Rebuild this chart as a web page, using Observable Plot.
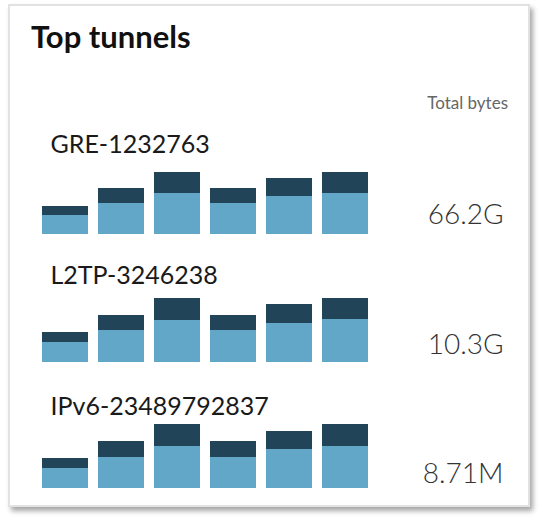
<!DOCTYPE html>
<html>
<head>
<meta charset="utf-8">
<script src="https://cdn.jsdelivr.net/npm/d3@7"></script>
<script src="https://cdn.jsdelivr.net/npm/@observablehq/plot@0.6"></script>
<style>
  html, body { margin: 0; padding: 0; background: #ffffff; }
  body { width: 539px; height: 519px; position: relative; overflow: hidden; font-family: Lato, "Open Sans", sans-serif; }
  #card { position: absolute; left: 8px; top: 4px; width: 518px; height: 499px; border: 2px solid #e2e2e2; background: #fff; box-shadow: 3px 4px 5px rgba(0,0,0,0.35); }
  #title { position: absolute; left: 31px; top: 21px; font-size: 31px; font-weight: 700; color: #111; line-height: 1; }
  #colhead { position: absolute; right: 31px; top: 94px; font-size: 17px; color: #666; line-height: 1; }
  .row { position: absolute; left: 0; }
</style>
</head>
<body>
<div id="card"></div>
<div id="title">Top tunnels</div>
<div id="colhead">Total bytes</div>
<div id="rows"></div>
<script>
// ---- data ----
const tunnels = ["GRE-1232763", "L2TP-3246238", "IPv6-23489792837"];
const totals = ["66.2G", "10.3G", "8.71M"];
const periods = ["1", "2", "3", "4", "5", "6"];
const greLower = [19, 31, 41, 31, 38, 41];
const greUpper = [9, 15, 21, 15, 18, 21];
const l2tpLower = [20, 32, 42, 32, 39, 43];
const l2tpUpper = [10, 15, 22, 15, 19, 21];
const ipv6Lower = [20, 31, 42, 31, 39, 42];
const ipv6Upper = [10, 16, 22, 16, 18, 22];
const parts = ["lower", "upper"];

const series = [
  [greLower, greUpper],
  [l2tpLower, l2tpUpper],
  [ipv6Lower, ipv6Upper]
];

// ---- layout ----
const rowTops = [130, 258, 384];
const nameDy = [-18, -15, -10];
const valueDy = [-11, -9, -6];

const container = document.getElementById("rows");
tunnels.forEach((name, i) => {
  const [lo, up] = series[i];
  const table = [];
  periods.forEach((p, j) => {
    table.push({period: p, part: "lower", value: lo[j]});
    table.push({period: p, part: "upper", value: up[j]});
  });
  const chart = Plot.plot({
    width: 539,
    height: 110,
    marginLeft: 42,
    marginRight: 171,
    marginTop: 40,
    marginBottom: 6,
    style: {background: "transparent", overflow: "visible"},
    x: {domain: periods, paddingInner: 0.18, paddingOuter: 0, axis: null},
    y: {domain: [0, 64], axis: null},
    color: {domain: parts, range: ["#62a6c8", "#224458"]},
    marks: [
      Plot.barY(table, {x: "period", y: "value", fill: "part", order: parts}),
      Plot.text([name], {frameAnchor: "top-left", text: d => d, dx: 8, dy: nameDy[i], lineAnchor: "bottom", textAnchor: "start", fontSize: 25, fill: "#1a1a1a", fontFamily: "Lato"}),
      Plot.text([totals[i]], {frameAnchor: "bottom-right", text: d => d, dx: 135, dy: valueDy[i], lineAnchor: "bottom", textAnchor: "end", fontSize: 28, fontWeight: 300, fill: "#333", fontFamily: "Lato"})
    ]
  });
  const div = document.createElement("div");
  div.className = "row";
  div.style.top = rowTops[i] + "px";
  div.appendChild(chart);
  container.appendChild(div);
});
</script>
</body>
</html>
